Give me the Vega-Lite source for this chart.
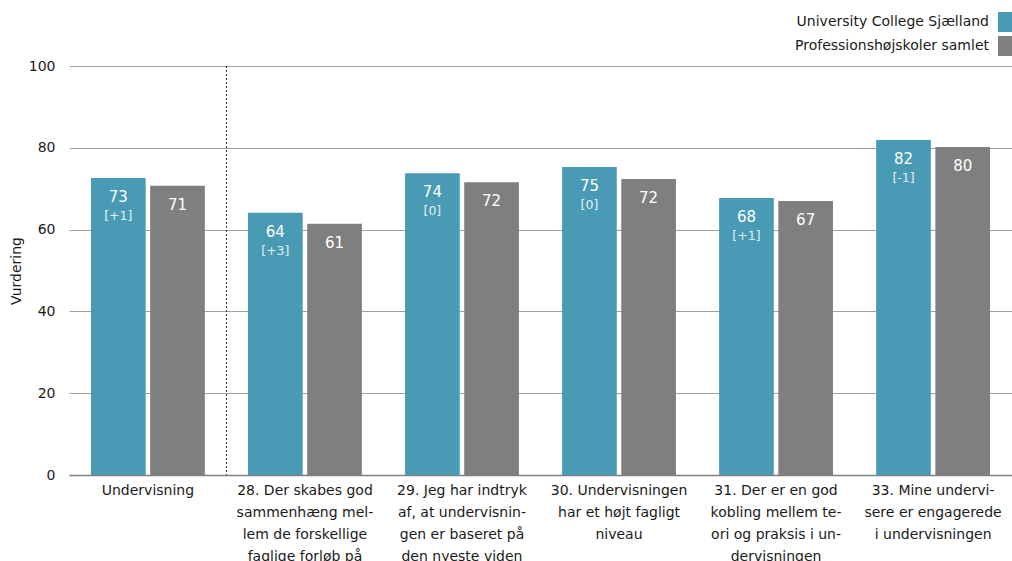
{
  "$schema": "https://vega.github.io/schema/vega-lite/v6.json",
  "width": 943,
  "height": 409,
  "autosize": {"type": "none"},
  "padding": {"left": 69, "top": 66, "right": 0, "bottom": 86},
  "background": "white",
  "config": {"view": {"stroke": null}, "font": "DejaVu Sans"},
  "data": {
    "values": [
      {"q": "Undervisning", "group": "University College Sjælland", "value": 72.6, "label": "73", "change": "[+1]"},
      {"q": "Undervisning", "group": "Professionshøjskoler samlet", "value": 70.7, "label": "71", "change": ""},
      {"q": "28. Der skabes god|sammenhæng mel-|lem de forskellige|faglige forløb på", "group": "University College Sjælland", "value": 64.1, "label": "64", "change": "[+3]"},
      {"q": "28. Der skabes god|sammenhæng mel-|lem de forskellige|faglige forløb på", "group": "Professionshøjskoler samlet", "value": 61.4, "label": "61", "change": ""},
      {"q": "29. Jeg har indtryk|af, at undervisnin-|gen er baseret på|den nyeste viden", "group": "University College Sjælland", "value": 73.8, "label": "74", "change": "[0]"},
      {"q": "29. Jeg har indtryk|af, at undervisnin-|gen er baseret på|den nyeste viden", "group": "Professionshøjskoler samlet", "value": 71.6, "label": "72", "change": ""},
      {"q": "30. Undervisningen|har et højt fagligt|niveau", "group": "University College Sjælland", "value": 75.3, "label": "75", "change": "[0]"},
      {"q": "30. Undervisningen|har et højt fagligt|niveau", "group": "Professionshøjskoler samlet", "value": 72.4, "label": "72", "change": ""},
      {"q": "31. Der er en god|kobling mellem te-|ori og praksis i un-|dervisningen", "group": "University College Sjælland", "value": 67.7, "label": "68", "change": "[+1]"},
      {"q": "31. Der er en god|kobling mellem te-|ori og praksis i un-|dervisningen", "group": "Professionshøjskoler samlet", "value": 67.0, "label": "67", "change": ""},
      {"q": "33. Mine undervi-|sere er engagerede|i undervisningen", "group": "University College Sjælland", "value": 81.9, "label": "82", "change": "[-1]"},
      {"q": "33. Mine undervi-|sere er engagerede|i undervisningen", "group": "Professionshøjskoler samlet", "value": 80.2, "label": "80", "change": ""}
    ]
  },
  "encoding": {
    "x": {
      "field": "q",
      "type": "nominal",
      "scale": {
        "domain": [
          "Undervisning",
          "28. Der skabes god|sammenhæng mel-|lem de forskellige|faglige forløb på",
          "29. Jeg har indtryk|af, at undervisnin-|gen er baseret på|den nyeste viden",
          "30. Undervisningen|har et højt fagligt|niveau",
          "31. Der er en god|kobling mellem te-|ori og praksis i un-|dervisningen",
          "33. Mine undervi-|sere er engagerede|i undervisningen"
        ],
        "paddingInner": 0.275,
        "paddingOuter": 0.14
      },
      "axis": {
        "title": null,
        "labelExpr": "split(datum.label, '|')",
        "labelAngle": 0,
        "labelFontSize": 14,
        "labelLineHeight": 22,
        "labelColor": "#1a1a1a",
        "labelPadding": 8,
        "labelLimit": 0,
        "labelOverlap": false,
        "labelBound": false,
        "ticks": false,
        "domainColor": "#808080",
        "domainWidth": 1.5
      }
    }
  },
  "layer": [
    {
      "mark": {"type": "bar"},
      "encoding": {
        "xOffset": {"field": "group", "type": "nominal", "scale": {"domain": ["University College Sjælland", "Professionshøjskoler samlet"], "paddingInner": 0.076, "paddingOuter": 0}},
        "y": {
          "field": "value",
          "type": "quantitative",
          "scale": {"domain": [0, 100], "nice": false},
          "axis": {
            "title": "Vurdering",
            "titleFontSize": 14,
            "titleFontWeight": "normal",
            "titleColor": "#1a1a1a",
            "titlePadding": 5,
            "values": [0, 20, 40, 60, 80, 100],
            "labelFontSize": 14,
            "labelColor": "#1a1a1a",
            "labelPadding": 14,
            "domain": false,
            "ticks": false,
            "gridColor": "#a0a0a0",
            "gridWidth": 1
          }
        },
        "color": {
          "field": "group",
          "type": "nominal",
          "scale": {"domain": ["University College Sjælland", "Professionshøjskoler samlet"], "range": ["#489ab5", "#7f7f7f"]},
          "legend": {
            "title": null,
            "orient": "none",
            "legendX": 929,
            "legendY": -54,
            "symbolType": "square",
            "symbolSize": 400,
            "symbolStrokeWidth": 0,
            "symbolOpacity": 1,
            "labelAlign": "right",
            "labelOffset": -29,
            "labelFontSize": 14,
            "labelColor": "#1a1a1a",
            "labelLimit": 400,
            "rowPadding": 4,
            "padding": 0
          }
        }
      }
    },
    {
      "mark": {"type": "text", "dy": 19, "baseline": "middle", "fontSize": 15, "color": "white"},
      "encoding": {
        "xOffset": {"field": "group", "type": "nominal", "scale": {"domain": ["University College Sjælland", "Professionshøjskoler samlet"], "paddingInner": 0.076, "paddingOuter": 0}},
        "y": {"field": "value", "type": "quantitative"},
        "text": {"field": "label"}
      }
    },
    {
      "mark": {"type": "text", "dy": 38, "baseline": "middle", "fontSize": 12.5, "color": "white", "opacity": 0.85},
      "encoding": {
        "xOffset": {"field": "group", "type": "nominal", "scale": {"domain": ["University College Sjælland", "Professionshøjskoler samlet"], "paddingInner": 0.076, "paddingOuter": 0}},
        "y": {"field": "value", "type": "quantitative"},
        "text": {"field": "change"}
      }
    },
    {
      "data": {"values": [{"q": "Undervisning"}]},
      "mark": {"type": "rule", "strokeDash": [2, 2], "color": "#333333", "strokeWidth": 1},
      "encoding": {
        "x": {"field": "q", "type": "nominal", "bandPosition": 1.19}
      }
    }
  ]
}
